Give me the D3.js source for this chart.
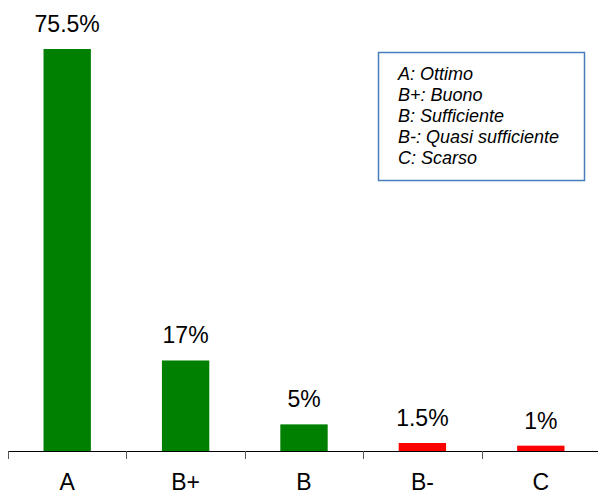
<!DOCTYPE html>
<html>
<head>
  <meta charset="utf-8">
  <title>Valutazioni</title>
  <script src="https://d3js.org/d3.v7.min.js"></script>
  <style>
    body { margin: 0; background: #fff; }
    text { font-family: "Liberation Sans", Arial, sans-serif; }
  </style>
</head>
<body>
  <script>
    // dati
    let categories = ['A', 'B+', 'B', 'B-', 'C'];
    let values = [75.5, 17, 5, 1.5, 1];
    let valueLabels = ['75.5%', '17%', '5%', '1.5%', '1%'];
    let barColors = ['#008000', '#008000', '#008000', '#ff0000', '#ff0000'];
    let legendLines = ['A: Ottimo', 'B+: Buono', 'B: Sufficiente', 'B-: Quasi sufficiente', 'C: Scarso'];

    let width = 598;
    let height = 493;
    let baseY = 451;

    let svg = d3.select('body')
      .append('svg')
      .attr('width', width)
      .attr('height', height);

    let x = d3.scaleBand()
      .domain(categories)
      .range([8, 600])
      .paddingInner(0.6)
      .paddingOuter(0.3);

    let y = d3.scaleLinear()
      .domain([0, 75.5])
      .range([baseY, 49]);

    // barre
    svg.selectAll('rect.bar')
      .data(values)
      .enter()
      .append('rect')
      .attr('class', 'bar')
      .attr('x', (d, i) => x(categories[i]))
      .attr('y', d => y(d))
      .attr('width', x.bandwidth())
      .attr('height', d => baseY - y(d))
      .attr('fill', (d, i) => barColors[i]);

    // etichette valori
    svg.selectAll('text.val')
      .data(values)
      .enter()
      .append('text')
      .attr('class', 'val')
      .attr('x', (d, i) => x(categories[i]) + x.bandwidth() / 2)
      .attr('y', d => y(d) - 17)
      .attr('text-anchor', 'middle')
      .attr('font-size', 23)
      .attr('fill', '#000')
      .text((d, i) => valueLabels[i]);

    // asse x
    let step = x.step();
    let axis = svg.append('g');
    axis.append('line')
      .attr('x1', 8).attr('x2', width)
      .attr('y1', baseY + 0.5).attr('y2', baseY + 0.5)
      .attr('stroke', '#000').attr('stroke-width', 1.2);
    axis.selectAll('line.tick')
      .data(d3.range(categories.length))
      .enter()
      .append('line')
      .attr('class', 'tick')
      .attr('x1', i => Math.round(8 + i * step) + 0.5)
      .attr('x2', i => Math.round(8 + i * step) + 0.5)
      .attr('y1', baseY)
      .attr('y2', baseY + 8)
      .attr('stroke', '#555');
    axis.selectAll('text.cat')
      .data(categories)
      .enter()
      .append('text')
      .attr('class', 'cat')
      .attr('x', d => x(d) + x.bandwidth() / 2)
      .attr('y', 490)
      .attr('text-anchor', 'middle')
      .attr('font-size', 23)
      .attr('fill', '#000')
      .text(d => d);

    // legenda
    let legend = svg.append('g');
    legend.append('rect')
      .attr('x', 378.5).attr('y', 52.5)
      .attr('width', 206).attr('height', 128)
      .attr('fill', '#fff')
      .attr('stroke', '#4a7ebb')
      .attr('stroke-width', 1.5);
    legend.selectAll('text')
      .data(legendLines)
      .enter()
      .append('text')
      .attr('x', 398)
      .attr('y', (d, i) => 80 + i * 21)
      .attr('font-size', 18)
      .attr('font-style', 'italic')
      .attr('fill', '#000')
      .text(d => d);
  </script>
</body>
</html>
